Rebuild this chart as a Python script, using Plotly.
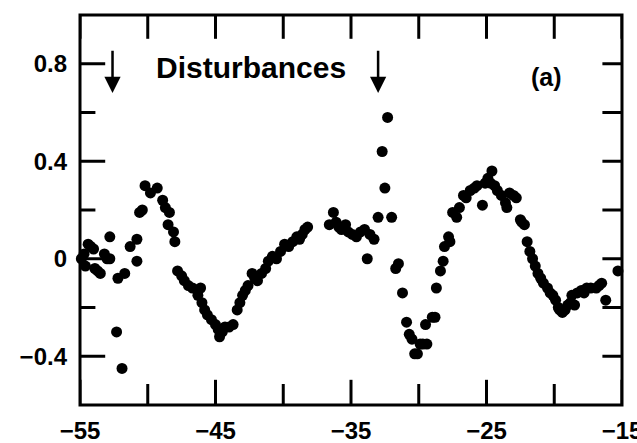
import plotly.graph_objects as go

# Measured signal (arb. units) versus position
x_vals = [
    -54.9, -54.7, -54.6, -54.4, -54.2, -54.0, -53.9, -53.7, -53.5, -53.2,
    -53.0, -52.8, -52.8, -52.3, -52.2, -51.9, -51.7, -51.3, -50.8, -50.8,
    -50.6, -50.4, -50.2, -49.8, -49.3, -48.9, -48.7, -48.5, -48.4, -48.1,
    -48.0, -47.8, -47.5, -47.3, -47.0, -46.7, -46.3, -46.1, -46.0, -45.8,
    -45.6, -45.3, -45.0, -44.8, -44.7, -44.5, -44.3, -44.0, -43.7, -43.4,
    -43.2, -43.0, -42.8, -42.6, -42.3, -42.1, -41.9, -41.6, -41.3, -41.1,
    -40.8, -40.5, -40.2, -39.9, -39.6, -39.3, -39.0, -38.8, -38.6, -38.4,
    -38.2, -36.6, -36.3, -36.1, -35.9, -35.7, -35.4, -35.2, -34.9, -34.6,
    -34.3, -34.0, -33.8, -33.6, -33.3, -33.0, -32.7, -32.5, -32.3, -32.0,
    -31.7, -31.5, -31.2, -30.9, -30.7, -30.5, -30.3, -30.1, -29.9, -29.7,
    -29.5, -29.4, -29.0, -28.8, -28.7, -28.4, -28.2, -28.1, -27.8, -27.7,
    -27.5, -27.2, -27.0, -26.7, -26.5, -26.2, -25.9, -25.7, -25.3, -25.1,
    -24.9, -24.6, -24.7, -24.4, -24.2, -23.9, -23.6, -23.5, -23.3, -23.0,
    -22.8, -22.5, -22.4, -22.2, -22.0, -21.8, -21.6, -21.4, -21.2, -21.0,
    -20.8, -20.5, -20.3, -20.1, -19.9, -19.7, -19.6, -19.4, -19.2, -19.0,
    -18.8, -18.7, -18.5, -18.3, -18.0, -17.8, -17.6, -17.3, -16.9, -16.7,
    -16.5, -16.2, -15.3,
]
y_vals = [
    0.00, 0.02, -0.03, 0.06, 0.05, 0.04, -0.04, -0.05, -0.06, 0.02,
    0.00, 0.09, 0.00, -0.30, -0.08, -0.45, -0.06, 0.05, 0.08, -0.01,
    0.19, 0.20, 0.30, 0.27, 0.29, 0.24, 0.21, 0.14, 0.19, 0.11,
    0.07, -0.05, -0.07, -0.09, -0.11, -0.12, -0.15, -0.12, -0.18, -0.21,
    -0.23, -0.25, -0.27, -0.29, -0.32, -0.30, -0.28, -0.28, -0.27, -0.21,
    -0.18, -0.15, -0.13, -0.11, -0.06, -0.08, -0.09, -0.06, -0.04, -0.01,
    0.01, 0.00, 0.03, 0.06, 0.05, 0.07, 0.09, 0.08, 0.10, 0.12,
    0.13, 0.14, 0.19, 0.15, 0.13, 0.12, 0.14, 0.11, 0.10, 0.09,
    0.11, 0.12, 0.00, 0.10, 0.08, 0.17, 0.44, 0.29, 0.58, 0.17,
    -0.04, -0.02, -0.14, -0.26, -0.31, -0.33, -0.39, -0.39, -0.35, -0.35,
    -0.27, -0.35, -0.24, -0.24, -0.12, -0.05, -0.01, 0.05, 0.09, 0.07,
    0.19, 0.17, 0.21, 0.26, 0.25, 0.28, 0.29, 0.30, 0.22, 0.31,
    0.33, 0.36, 0.31, 0.30, 0.28, 0.26, 0.23, 0.21, 0.27, 0.26,
    0.25, 0.16, 0.15, 0.14, 0.07, 0.03, 0.00, -0.03, -0.06, -0.08,
    -0.10, -0.12, -0.14, -0.15, -0.17, -0.20, -0.21, -0.22, -0.21, -0.19,
    -0.18, -0.15, -0.19, -0.14, -0.13, -0.14, -0.12, -0.12, -0.12, -0.11,
    -0.10, -0.17, -0.05,
]

# Tick values
x_major = [-55, -45, -35, -25, -15]
x_minor = [-50, -40, -30, -20]
y_major = [-0.4, 0.0, 0.4, 0.8]
y_minor = [-0.2, 0.2, 0.6]

# Positions of the two disturbances
disturbance_x = [-52.6, -33.0]
arrow_top = 0.86
arrow_tip = 0.68

X_RANGE = [-55, -15]
Y_RANGE = [-0.6, 1.0]
FONT = "Liberation Sans"
INK = "black"

fig = go.Figure()


def tick_marks(xs, ys, symbol, half_len):
    # inward tick marks: a line symbol centred on the frame edge; the half
    # lying outside the plotting area is clipped away by the axes
    fig.add_trace(go.Scatter(
        x=xs, y=ys, mode="markers", cliponaxis=True,
        marker=dict(symbol=symbol, size=2 * half_len, color=INK,
                    line=dict(color=INK, width=3)),
        showlegend=False, hoverinfo="skip",
    ))


ticks_x = x_major + x_minor
tick_marks(x_major, [Y_RANGE[0]] * len(x_major), "line-ns", 18)
tick_marks(x_minor, [Y_RANGE[0]] * len(x_minor), "line-ns", 15)
tick_marks(ticks_x, [Y_RANGE[1]] * len(ticks_x), "line-ns", 17)
ticks_y = y_major + y_minor
tick_marks([X_RANGE[0]] * len(y_major), y_major, "line-ew", 18)
tick_marks([X_RANGE[0]] * len(y_minor), y_minor, "line-ew", 11)
tick_marks([X_RANGE[1]] * len(ticks_y), ticks_y, "line-ew", 14)

fig.add_trace(go.Scatter(
    x=x_vals, y=y_vals, mode="markers",
    marker=dict(color=INK, size=11, line=dict(width=0)),
    cliponaxis=False, showlegend=False, hoverinfo="skip",
))

# boxed frame around the plotting area
fig.add_shape(type="rect", xref="x domain", yref="y domain",
              x0=0, x1=1, y0=0, y1=1, line=dict(color=INK, width=3))

for xd in disturbance_x:
    fig.add_annotation(
        x=xd, y=arrow_tip, ax=xd, ay=arrow_top,
        xref="x", yref="y", axref="x", ayref="y",
        text="", showarrow=True, arrowhead=2, arrowsize=1.3,
        arrowwidth=2.5, arrowcolor=INK,
    )

fig.add_annotation(
    x=-42.4, y=0.785, xref="x", yref="y", text="Disturbances",
    showarrow=False, font=dict(family=FONT, size=30, color=INK, weight="bold"),
)
fig.add_annotation(
    x=-20.6, y=0.745, xref="x", yref="y", text="(a)",
    showarrow=False, font=dict(family=FONT, size=25, color=INK, weight="bold"),
)

tickfont = dict(family=FONT, size=24, color=INK, weight="bold")

fig.update_layout(
    template="none",
    width=637, height=443, autosize=False,
    margin=dict(l=80, r=15, t=15, b=38),
    paper_bgcolor="white", plot_bgcolor="white",
    xaxis=dict(
        range=X_RANGE, tickvals=x_major, showline=False, ticks="",
        showgrid=False, zeroline=False, automargin=False,
        tickfont=tickfont, ticklabeloverflow="allow", ticklabelstandoff=9,
    ),
    yaxis=dict(
        range=Y_RANGE, tickvals=y_major, showline=False, ticks="",
        showgrid=False, zeroline=False, automargin=False,
        tickfont=tickfont, ticklabelstandoff=12,
    ),
)

fig.write_html("out.html")
